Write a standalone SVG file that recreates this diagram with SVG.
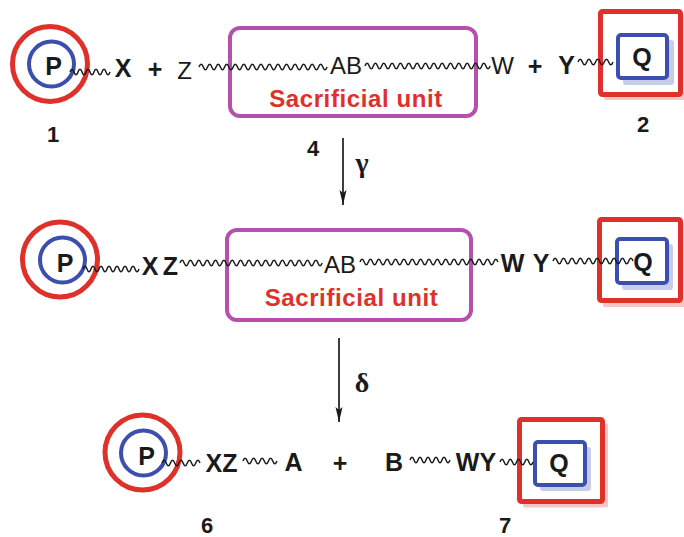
<svg xmlns="http://www.w3.org/2000/svg" width="684" height="537" viewBox="0 0 684 537">
<style>
.rc{fill:none;stroke:#e0302a;stroke-width:5}
.bc{fill:none;stroke:#3d4fae;stroke-width:4}
.rs{fill:#fff;stroke:#e0302a;stroke-width:5}
.rsh{fill:#f5c6c4}
.bs{fill:#fff;stroke:#3d4fae;stroke-width:4}
.bsh{fill:#c9cce8}
.box{fill:none;stroke:#b64fae;stroke-width:4}
.b{font-family:"Liberation Sans",Arial,sans-serif;font-weight:bold;font-size:25px;fill:#1a1a1a;text-anchor:middle}
.r{font-family:"Liberation Sans",Arial,sans-serif;font-size:24px;fill:#1a1a1a;text-anchor:middle}
.n{font-family:"Liberation Sans",Arial,sans-serif;font-weight:bold;font-size:22px;fill:#1a1a1a;text-anchor:middle}
.su{font-family:"Liberation Sans",Arial,sans-serif;font-weight:bold;font-size:24px;fill:#e0302a;text-anchor:middle;letter-spacing:0.6px}
.g{font-family:"Liberation Serif","Times New Roman",serif;font-weight:bold;font-size:28px;fill:#1a1a1a;text-anchor:middle}
.w{fill:none;stroke:#1a1a1a;stroke-width:1.5}
.ar{stroke:#1a1a1a;stroke-width:1.7;fill:none}
</style>
<defs>
<marker id="ah" markerWidth="8" markerHeight="16" refX="4" refY="15" orient="0" markerUnits="userSpaceOnUse">
<path d="M4,15 L0.5,0 L4,3 L7.5,0 Z" fill="#1a1a1a"/>
</marker>
</defs>

<!-- Row 1 -->
<g id="cmp1">
<circle class="rc" cx="50" cy="64" r="37.5"/>
<circle class="bc" cx="51.5" cy="64" r="22.5"/>
<text class="b" x="53.5" y="75">P</text>
</g>
<g id="t-X1"><text class="b" x="123" y="77">X</text></g>
<g id="plus1"><text class="b" x="155" y="77.5">+</text></g>
<g id="t-Z1"><text class="r" x="184.5" y="79">Z</text></g>
<g id="box4">
<rect class="box" x="230" y="28" width="246" height="88" rx="10"/>
<text class="r" x="346" y="74">AB</text>
<text class="su" x="356" y="107">Sacrificial unit</text>
</g>
<g id="t-W1"><text class="r" x="502.5" y="74">W</text></g>
<g id="plus2"><text class="b" x="535" y="75">+</text></g>
<g id="t-Y1"><text class="b" x="566.5" y="74">Y</text></g>
<g id="cmp2">
<rect class="rsh" x="604" y="15" width="82" height="85" rx="2"/>
<rect class="rs" x="600.5" y="11.5" width="80" height="83" rx="2"/>
<rect class="bsh" x="623" y="40" width="51" height="45" rx="3"/>
<rect class="bs" x="618" y="35" width="49" height="43" rx="3"/>
<text class="b" x="642" y="66">Q</text>
</g>
<g id="lbl1"><text class="n" x="53" y="142">1</text></g>
<g id="lbl2"><text class="n" x="643" y="132">2</text></g>
<g id="lbl4"><text class="n" x="313" y="156">4</text></g>

<!-- Row 2 -->
<g id="cmp3">
<circle class="rc" cx="60" cy="259.5" r="37.5"/>
<circle class="bc" cx="62.5" cy="260" r="22.5"/>
<text class="b" x="65" y="272">P</text>
</g>
<g id="t-XZ2"><text class="b" x="150" y="275">X</text><text class="b" x="170.5" y="275">Z</text></g>
<g id="box5">
<rect class="box" x="227" y="230" width="244" height="90" rx="10"/>
<text class="r" x="340" y="273">AB</text>
<text class="su" x="351.5" y="306">Sacrificial unit</text>
</g>
<g id="t-WY2"><text class="b" x="512.5" y="272">W</text><text class="b" x="541" y="272">Y</text></g>
<g id="cmp4">
<rect class="rsh" x="603" y="223" width="83" height="84" rx="2"/>
<rect class="rs" x="599.5" y="219.5" width="81" height="81" rx="2"/>
<rect class="bsh" x="622" y="244" width="51" height="46" rx="3"/>
<rect class="bs" x="617" y="239" width="50" height="44" rx="3"/>
</g>

<!-- Row 3 -->
<g id="cmp6">
<circle class="rc" cx="142.5" cy="452.5" r="37.5"/>
<circle class="bc" cx="143.5" cy="453" r="22.5"/>
<text class="b" x="146.5" y="465">P</text>
</g>
<g id="t-XZ3"><text class="b" x="221.5" y="472">XZ</text></g>
<g id="t-A"><text class="b" x="293.5" y="471">A</text></g>
<g id="plus3"><text class="b" x="340" y="471.5">+</text></g>
<g id="t-B"><text class="b" x="394" y="471">B</text></g>
<g id="t-WY3"><text class="b" x="476" y="471">WY</text></g>
<g id="cmp7">
<rect class="rsh" x="523" y="423.5" width="85" height="84" rx="2"/>
<rect class="rs" x="519.5" y="419.5" width="83" height="82" rx="2"/>
<rect class="bsh" x="540" y="447" width="51" height="44" rx="3"/>
<rect class="bs" x="535" y="442" width="50" height="43" rx="3"/>
<text class="b" x="559" y="472">Q</text>
</g>
<g id="lbl6"><text class="n" x="207" y="533">6</text></g>
<g id="lbl7"><text class="n" x="505" y="533">7</text></g>

<!-- connectors -->
<g id="connectors">
<path class="w" d="M70,72 q2,-5.5 4,0 t4,0 t4,0 t4,0 t4,0 t4,0 t4,0 t4,0 t4,0 t4,0"/>
<path class="w" d="M199,67 q2.13,-5.5 4.27,0 t4.27,0 t4.27,0 t4.27,0 t4.27,0 t4.27,0 t4.27,0 t4.27,0 t4.27,0 t4.27,0 t4.27,0 t4.27,0 t4.27,0 t4.27,0 t4.27,0 t4.27,0 t4.27,0 t4.27,0 t4.27,0 t4.27,0 t4.27,0 t4.27,0 t4.27,0 t4.27,0 t4.27,0 t4.27,0 t4.27,0 t4.27,0 t4.27,0 t4.27,0"/>
<path class="w" d="M365,66 q2.08,-5.5 4.17,0 t4.17,0 t4.17,0 t4.17,0 t4.17,0 t4.17,0 t4.17,0 t4.17,0 t4.17,0 t4.17,0 t4.17,0 t4.17,0 t4.17,0 t4.17,0 t4.17,0 t4.17,0 t4.17,0 t4.17,0 t4.17,0 t4.17,0 t4.17,0 t4.17,0 t4.17,0 t4.17,0 t4.17,0 t4.17,0 t4.17,0 t4.17,0 t4.17,0 t4.17,0"/>
<path class="w" d="M578,62 q2.19,-5.5 4.38,0 t4.38,0 t4.38,0 t4.38,0 t4.38,0 t4.38,0 t4.38,0 t4.38,0"/>
<path class="w" d="M83,269 q2,-5.5 4,0 t4,0 t4,0 t4,0 t4,0 t4,0 t4,0 t4,0 t4,0 t4,0 t4,0 t4,0 t4,0 t4,0"/>
<path class="w" d="M180,263 q2.09,-5.5 4.18,0 t4.18,0 t4.18,0 t4.18,0 t4.18,0 t4.18,0 t4.18,0 t4.18,0 t4.18,0 t4.18,0 t4.18,0 t4.18,0 t4.18,0 t4.18,0 t4.18,0 t4.18,0 t4.18,0 t4.18,0 t4.18,0 t4.18,0 t4.18,0 t4.18,0 t4.18,0 t4.18,0 t4.18,0 t4.18,0 t4.18,0 t4.18,0 t4.18,0 t4.18,0 t4.18,0 t4.18,0 t4.18,0 t4.18,0"/>
<path class="w" d="M360,262 q2.09,-5.5 4.18,0 t4.18,0 t4.18,0 t4.18,0 t4.18,0 t4.18,0 t4.18,0 t4.18,0 t4.18,0 t4.18,0 t4.18,0 t4.18,0 t4.18,0 t4.18,0 t4.18,0 t4.18,0 t4.18,0 t4.18,0 t4.18,0 t4.18,0 t4.18,0 t4.18,0 t4.18,0 t4.18,0 t4.18,0 t4.18,0 t4.18,0 t4.18,0 t4.18,0 t4.18,0 t4.18,0 t4.18,0 t4.18,0"/>
<path class="w" d="M553,261 q2.1,-5.5 4.21,0 t4.21,0 t4.21,0 t4.21,0 t4.21,0 t4.21,0 t4.21,0 t4.21,0 t4.21,0 t4.21,0 t4.21,0 t4.21,0 t4.21,0 t4.21,0 t4.21,0 t4.21,0 t4.21,0 t4.21,0 t4.21,0"/>
<path class="w" d="M162,463 q2.11,-5.5 4.22,0 t4.22,0 t4.22,0 t4.22,0 t4.22,0 t4.22,0 t4.22,0 t4.22,0 t4.22,0"/>
<path class="w" d="M243,461 q2.13,-5.5 4.25,0 t4.25,0 t4.25,0 t4.25,0 t4.25,0 t4.25,0 t4.25,0 t4.25,0"/>
<path class="w" d="M410,460 q2,-5.5 4,0 t4,0 t4,0 t4,0 t4,0 t4,0 t4,0 t4,0 t4,0 t4,0"/>
<path class="w" d="M500,462 q2.06,-5.5 4.13,0 t4.13,0 t4.13,0 t4.13,0 t4.13,0 t4.13,0 t4.13,0 t4.13,0"/>
<line class="ar" x1="343" y1="138" x2="343" y2="205" marker-end="url(#ah)"/>
<line class="ar" x1="339" y1="338" x2="339" y2="422" marker-end="url(#ah)"/>
</g>
<g id="q2"><text class="b" x="643" y="271">Q</text></g>
<g id="lbl-gamma"><text class="g" x="362" y="172">γ</text></g>
<g id="lbl-delta"><text class="g" x="362" y="392">δ</text></g>
</svg>
